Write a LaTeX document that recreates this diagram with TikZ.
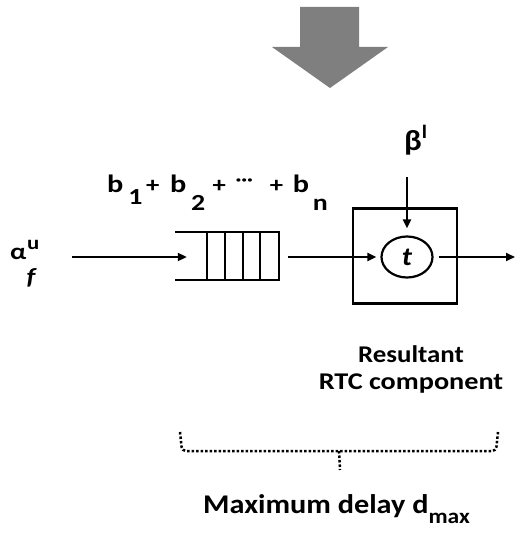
\documentclass[tikz,border=0pt]{standalone}
\usepackage{fontspec}
\setmainfont{Carlito}
\usetikzlibrary{arrows.meta, positioning, shapes.geometric, calc}
\definecolor{bigarrowgray}{HTML}{7F7F7F}
\newcommand{\stretchx}[2][1.12]{\scalebox{#1}[1]{#2}}
\newcommand{\fsz}[1]{\fontsize{#1}{#1}\selectfont}

\begin{document}
\begin{tikzpicture}[x=1pt, y=-1pt,
            flow/.style={-{Triangle[length=9pt, width=8pt]}, line width=2pt},
            label/.style={font=\bfseries\fsz{24}, inner sep=0pt, align=center},
            frame/.style={draw, line width=2.5pt, inner sep=0pt}
        ]
          \useasboundingbox (0,0) rectangle (516,540);
          % big arrow on top
          \fill[bigarrowgray] (300,7) -- (359,7) -- (359,47) -- (388,47) -- (330,88) -- (272,47) -- (300,47) -- cycle;
          % nodes
          \node[label, anchor=base west] (alpha) at (10,259) {\stretchx[1.2]{\fsz{23}α\rlap{\hspace{0.5pt}\raisebox{10pt}{\fsz{19}u}}\raisebox{-25pt}{\fsz{23}\textit{f}}}};
          \node[minimum width=104pt, minimum height=48pt, inner sep=0pt] (queue) at (227,256) {};
          \node[frame, minimum width=104pt, minimum height=95pt] (rtc) at (405,256) {};
          \node[frame, ellipse, line width=2.2pt, minimum width=51pt, minimum height=41pt] (task) at (407,257) {\stretchx{\bfseries\itshape\fsz{26}t}};
          \node[label, anchor=base west] (beta) at (404,151) {\stretchx{\fsz{29}β\raisebox{12pt}{\fsz{19}l}}};
          \node[label, anchor=base west] (bsum) at (107,192) {\stretchx[1.21]{\fsz{25}b\hspace{4pt}\raisebox{-13pt}{\fsz{23}1}\hspace{3pt}\fsz{22}+\hspace{9pt}\fsz{25}b\hspace{4pt}\raisebox{-18pt}{\fsz{23}2}\hspace{6pt}\fsz{22}+\hspace{8pt}\raisebox{7pt}{\fsz{18}···}\hspace{14pt}\fsz{22}+\hspace{8pt}\fsz{25}b\hspace{3pt}\raisebox{-18pt}{\fsz{23}n}}};
          \node[label] (res) at (411,371) {\stretchx{\begin{tabular}{@{}c@{}}Resultant\\[3pt]\scalebox{1.05}[1]{RTC component}\end{tabular}}};
          \node[label, anchor=base west] (dmax) at (203,513) {\stretchx{\fsz{27}Maximum delay d\raisebox{-10pt}{\fsz{21}max}}};
          \coordinate (betain) at (407,177);
          \coordinate (out) at (515,257);
          % queue cells
          \draw[line width=2.5pt] (queue.north west) -- (queue.north east) -- (queue.south east) -- (queue.south west);
          \foreach \cx in {207,225,243,260}
            \draw[line width=2.5pt] (\cx,231) -- (\cx,280);
          % flows
          \draw[flow] ([xshift=35pt]alpha.east |- task.west) -- ([xshift=12pt]queue.west |- task.west);
          \draw[flow] ([xshift=9pt]queue.east |- task.west) -- ([xshift=-4pt]task.west);
          \draw[flow] (betain) -- ([yshift=7pt]task.north);
          \draw[flow] ([xshift=5pt]task.east) -- (out);
          % brace under the component
          \draw[dotted, line width=2.5pt, rounded corners=4pt] (180,432) -- (182,451) -- (496,451) -- (498,432);
          \draw[dotted, line width=2.5pt] (339,451) -- (340,470);
        \end{tikzpicture}
\end{document}
